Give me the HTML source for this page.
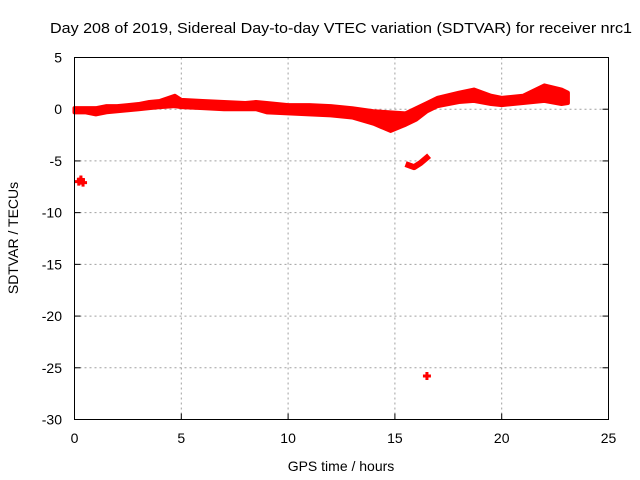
<!DOCTYPE html>
<html><head><meta charset="utf-8">
<style>
body{margin:0;background:#fff;}
svg{display:block;font-family:"Liberation Sans",sans-serif;}
</style></head>
<body>
<svg id="chart" width="640" height="480" viewBox="0 0 640 480">
<rect width="640" height="480" fill="#fff"/>
<text x="341" y="33" font-size="15" text-anchor="middle" textLength="582" lengthAdjust="spacingAndGlyphs" fill="#000">Day 208 of 2019, Sidereal Day-to-day VTEC variation (SDTVAR) for receiver nrc1</text>
<g id="grid"></g>
<g id="axes"></g>
<g id="data"></g>
<rect x="74.5" y="57.5" width="534" height="362" fill="none" stroke="#000" stroke-width="1"/>
<text x="341" y="471" font-size="14" text-anchor="middle">GPS time / hours</text>
<text transform="translate(18,238) rotate(-90)" font-size="14" text-anchor="middle">SDTVAR / TECUs</text>
</svg>
<script>
const xTicks=[0,5,10,15,20,25];
const yTicks=[5,0,-5,-10,-15,-20,-25,-30];
const bandTime=[0,0.5,1,1.5,2,2.5,3,3.5,4,4.7,5,6,7,8,8.5,9,10,11,12,13,14,14.8,15.5,16,16.5,17,18,18.7,19.5,20,21,22,22.8,23.1];
const bandUpper=[0.1,0.1,0.1,0.3,0.3,0.4,0.5,0.7,0.8,1.3,0.9,0.8,0.7,0.6,0.7,0.6,0.4,0.4,0.3,0.1,-0.2,-0.3,-0.4,0.1,0.6,1.1,1.6,1.9,1.3,1.1,1.3,2.3,1.9,1.6];
const bandLower=[-0.3,-0.3,-0.5,-0.3,-0.2,-0.1,0,0.1,0.2,0.3,0.2,0.1,0,0,0,-0.3,-0.4,-0.5,-0.6,-0.8,-1.4,-2.1,-1.5,-1,-0.2,0.3,0.7,0.8,0.5,0.4,0.6,0.8,0.5,0.6];
const segTime=[15.5,15.9,16.2,16.6];
const segValue=[-5.3,-5.6,-5.2,-4.5];
const pointTime=[0.2,0.3,0.4,0.3,16.5];
const pointValue=[-7.0,-6.9,-7.1,-6.8,-25.8];
const X0=74.5,X1=608.5,Y0=419.5,Y1=57.5;
const sx=v=>X0+(v-0)/(25-0)*(X1-X0);
const sy=v=>Y0-(v+30)/(35)*(Y0-Y1);
const NS="http://www.w3.org/2000/svg";
const grid=document.getElementById('grid'),axes=document.getElementById('axes'),data=document.getElementById('data');
function mk(tag,attrs,parent){const e=document.createElementNS(NS,tag);for(const k in attrs)e.setAttribute(k,attrs[k]);parent.appendChild(e);return e;}
xTicks.forEach(t=>{
  const x=sx(t);
  if(t>0&&t<25){const g=mk('line',{x1:x,x2:x,y1:Y1,y2:Y0,stroke:'#a0a0a0','stroke-dasharray':'2,3'},grid);
  
  }
  const tk=mk('line',{x1:x,x2:x,y1:Y0,y2:Y0-6,stroke:'#000'},axes);
  
  
  const tx=mk('text',{x:x,y:443,'font-size':14,'text-anchor':'middle'},axes);tx.textContent=t;
  
  
});
yTicks.forEach(t=>{
  const y=sy(t);
  if(t>-30&&t<5){const g=mk('line',{x1:X0,x2:X1,y1:y,y2:y,stroke:'#a0a0a0','stroke-dasharray':'2,3'},grid);
  
  }
  const tk=mk('line',{x1:X0,x2:X0+6,y1:y,y2:y,stroke:'#000'},axes);
  
  
  const tk2=mk('line',{x1:X1,x2:X1-6,y1:y,y2:y,stroke:'#000'},axes);
  
  
  const tx=mk('text',{x:62,y:y+5,'font-size':14,'text-anchor':'end'},axes);tx.textContent=t;
  
  
});
let pts=[];
bandTime.forEach((t,i)=>pts.push(sx(t)+','+sy(bandUpper[i])));
for(let i=bandTime.length-1;i>=0;i--)pts.push(sx(bandTime[i])+','+sy(bandLower[i]));
const band=mk('polygon',{points:pts.join(' '),fill:'#ff0000',stroke:'#ff0000','stroke-width':4,'stroke-linejoin':'round'},data);


const seg=mk('polyline',{points:segTime.map((t,i)=>sx(t)+','+sy(segValue[i])).join(' '),fill:'none',stroke:'#ff0000','stroke-width':6,'stroke-linejoin':'round'},data);


pointTime.forEach((t,i)=>{
  const x=sx(t),y=sy(pointValue[i]);
  const p=mk('path',{d:`M${x-4},${y}H${x+4}M${x},${y-4}V${y+4}`,stroke:'#ff0000','stroke-width':3,fill:'none'},data);
  
  
});
</script>
</body></html>
